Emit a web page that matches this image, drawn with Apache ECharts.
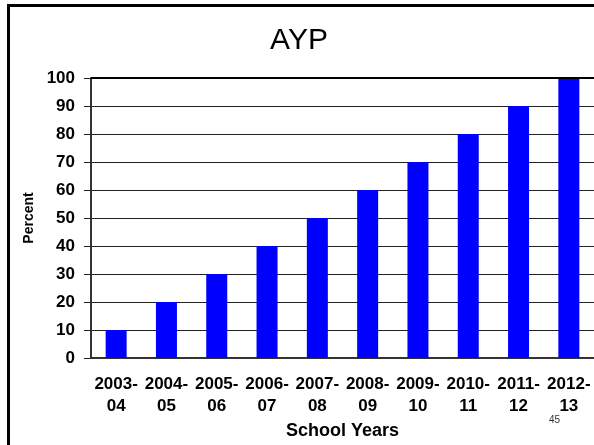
<!DOCTYPE html>
<html>
<head>
<meta charset="utf-8">
<script src="https://cdn.jsdelivr.net/npm/echarts@6/dist/echarts.min.js"></script>
<style>
  html, body { margin: 0; padding: 0; background: #fff; }
  #chart { width: 594px; height: 445px; }
</style>
</head>
<body>
<div id="chart"></div>
<script>
// school years along the x axis
const categories = ['2003-\n04', '2004-\n05', '2005-\n06', '2006-\n07', '2007-\n08',
  '2008-\n09', '2009-\n10', '2010-\n11', '2011-\n12', '2012-\n13']
// AYP target percent for each year
const values = [10, 20, 30, 40, 50, 60, 70, 80, 90, 100]
const yMin = 0
const yMax = 100
const yStep = 10

const font = 'Liberation Sans, Arial, sans-serif'
const chart = echarts.init(document.getElementById('chart'))

const option = {
  animation: false,
  backgroundColor: '#fff',
  title: {
    text: 'AYP',
    left: 294,
    top: 21,
    textAlign: 'center',
    textStyle: { fontFamily: font, fontSize: 30, fontWeight: 'normal', color: '#000' }
  },
  grid: { left: 91, right: 0, top: 78, bottom: 87 },
  xAxis: {
    type: 'category',
    data: categories,
    name: 'School Years',
    nameLocation: 'middle',
    nameGap: 61,
    nameTextStyle: { fontFamily: font, fontSize: 18, fontWeight: 'bold', color: '#000' },
    axisLine: { lineStyle: { color: '#333', width: 2 } },
    axisTick: { show: false },
    axisLabel: {
      interval: 0,
      margin: 15,
      fontFamily: font,
      fontSize: 17,
      fontWeight: 'bold',
      color: '#000',
      lineHeight: 22
    }
  },
  yAxis: {
    type: 'value',
    min: yMin,
    max: yMax,
    interval: yStep,
    name: 'Percent',
    nameLocation: 'middle',
    nameRotate: 90,
    nameGap: 53,
    nameTextStyle: { fontFamily: font, fontSize: 14, fontWeight: 'bold', color: '#000' },
    axisLine: { show: true, lineStyle: { color: '#333', width: 2 } },
    axisTick: { show: true, length: 7, lineStyle: { color: '#222' } },
    axisLabel: { margin: 16, fontFamily: font, fontSize: 17, fontWeight: 'bold', color: '#000' },
    splitLine: { lineStyle: { color: '#222', width: 1 } }
  },
  series: [
    {
      type: 'bar',
      data: values,
      barWidth: 21,
      itemStyle: { color: '#0000ff' },
      markLine: {
        silent: true,
        symbol: 'none',
        label: { show: false },
        lineStyle: { color: '#000', width: 2, type: 'solid' },
        data: [{ yAxis: yMax }]
      }
    }
  ],
  graphic: [
    {
      type: 'rect',
      shape: { x: 8.5, y: 5.5, width: 700, height: 600 },
      style: { fill: 'none', stroke: '#000', lineWidth: 3 },
      z: 100
    },
    {
      type: 'text',
      left: 549,
      top: 415,
      style: { text: '45', fontFamily: font, fontSize: 10, fill: '#333' }
    }
  ]
}

chart.setOption(option)
</script>
</body>
</html>
